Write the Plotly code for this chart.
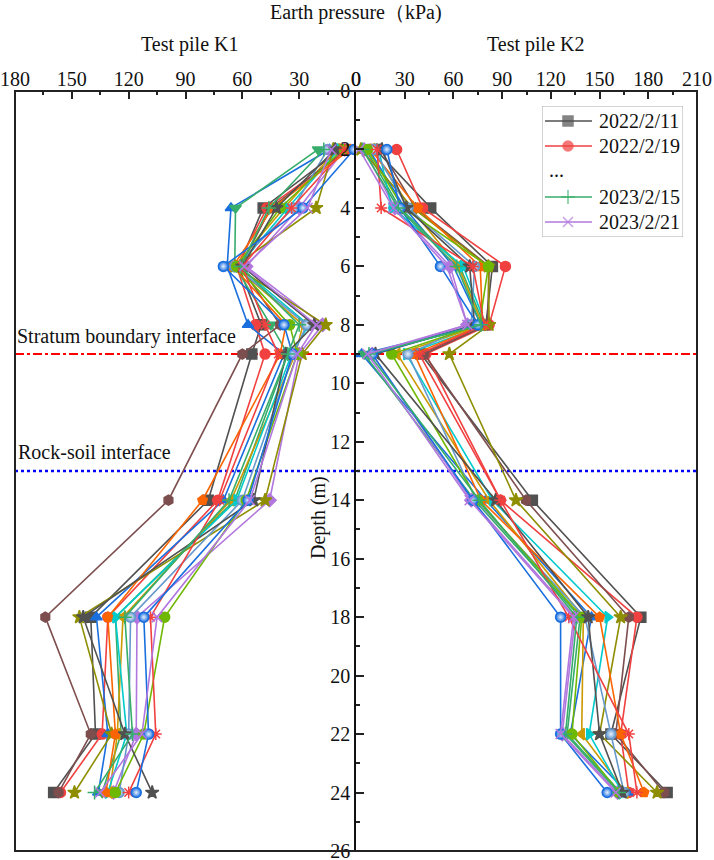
import plotly.graph_objects as go

depths = [2, 4, 6, 8, 9, 14, 18, 22, 24]

dates = ["2022/2/11", "2022/2/19", "s3", "s4", "s5", "s6", "s7", "s8", "s9", "s10",
         "s11", "s12", "s13", "s14", "s15", "2023/2/15", "2023/2/21"]

# Earth pressure, test pile K1 (kPa), one list per monitoring date
k1 = [
    [8, 49, 62, 50, 55, 78, 140, 137.5, 159.6],
    [4, 47, 63, 53, 48, 73, 131, 134, 156],
    [14, 66, 68, 57, 38, 70, 137, 131, 136],
    [20, 63.6, 64, 45, 36, 64, 127, 124, 134],
    [6, 30, 58, 17.6, 30, 45.6, 115.6, 116, 128],
    [10, 38, 64, 28, 32, 66, 123, 126, 130],
    [9, 36, 62, 25, 34, 63, 127, 121, 131],
    [5, 45, 61, 40, 60, 99, 164, 140, 157],
    [12, 21, 64, 16, 28.4, 48, 146, 129, 148.6],
    [3, 44, 65, 37, 40, 81, 131, 127, 132],
    [15, 33, 64, 26, 33, 60, 119, 120, 125],
    [7, 40, 63, 35, 31, 58, 101, 112, 127],
    [11, 42, 60, 22, 37, 54, 144, 122, 107.6],
    [6, 34, 60, 48, 41, 72, 108.5, 105.7, 120],
    [1, 28, 70, 38, 33.5, 57, 112, 109.5, 116],
    [17, 46, 61, 30, 36, 67, 122, 118, 138],
    [13, 25.6, 59, 21, 31, 56, 105, 113, 135],
]

# Earth pressure, test pile K2 (kPa)
k2 = [
    [12, 46, 84, 80, 40, 108.6, 175.4, 157, 191.6],
    [25, 41, 92, 82, 43, 89, 173, 163, 168],
    [8, 30, 60, 77, 3.5, 80, 145, 132, 167],
    [6, 27, 64, 79, 5, 73, 138, 130, 163],
    [5, 24, 58, 68.6, 10, 71, 135, 127, 161],
    [10, 33.5, 63, 78, 25.5, 82, 140, 139, 166],
    [14, 22, 66, 80, 31, 84, 155, 143.6, 164],
    [15, 36.6, 82, 81, 42, 104.7, 168, 160, 189.7],
    [3, 35, 81.5, 82, 57.5, 98.5, 163, 150, 185.4],
    [9, 38, 76.5, 78, 36, 77, 150, 163, 177.4],
    [11, 32, 73, 71, 32, 74, 141, 157, 165],
    [7, 29, 81.5, 76, 22, 75, 139, 133, 162],
    [16, 31, 70, 73, 12, 86, 143, 150, 164],
    [13, 15.5, 72, 79, 39, 89, 131, 168, 173],
    [19, 27, 52, 75, 10, 72, 126, 126, 154.7],
    [4, 26, 62, 77, 8, 76, 136, 129, 162],
    [2, 23, 56, 68.6, 7, 70, 134, 126, 160],
]

colors = ["#515151", "#F14040", "#1A6FDF", "#37AD6B", "#B177DE", "#CC9900",
          "#00CBCC", "#7D4E4E", "#8E8E00", "#FB6501", "#6699CC", "#6FB802",
          "#515151", "#F14040", "#1A6FDF", "#37AD6B", "#B177DE"]
symbols = ["square", "circle", "triangle-up", "triangle-down", "diamond",
           "triangle-left", "triangle-right", "hexagon", "star", "pentagon",
           "circle", "circle", "star", "asterisk-open", "circle",
           "cross-thin-open", "x-thin-open"]
spheres = {10, 14}

# legend rows: (series index or None for the "..." row, label)
legend_rows = [(0, "2022/2/11"), (1, "2022/2/19"), (None, "..."),
               (15, "2023/2/15"), (16, "2023/2/21")]

FONT = "Times New Roman, Liberation Serif, serif"

# plot area in page pixels
L, R, T, B = 15, 697, 91, 851
W, H = 714, 860


def marker_for(i, size=10):
    mk = dict(symbol=symbols[i], size=size, color=colors[i],
              line=dict(color=colors[i], width=1.5))
    if i in spheres:
        mk["gradient"] = dict(type="radial", color="#E8F0FF")
    return mk


fig = go.Figure()

for i in range(len(k1)):
    for vals, xa in ((k1[i], "x"), (k2[i], "x2")):
        fig.add_trace(go.Scatter(
            x=vals, y=depths, xaxis=xa, yaxis="y", mode="lines+markers",
            line=dict(color=colors[i], width=1.6), marker=marker_for(i),
            name=dates[i], showlegend=False))

# hand-built legend on an overlay axis measured in page pixels
LX0, LX1, LY0, LY1 = 542, 683, 106, 237
row_y = [121, 146, 171, 197, 222]
for (idx, label), ry in zip(legend_rows, row_y):
    if idx is not None:
        mk = marker_for(idx)
        mk["size"] = [0, 10, 0]
        fig.add_trace(go.Scatter(
            x=[545, 568, 592], y=[ry, ry, ry], xaxis="x3", yaxis="y3",
            mode="lines+markers", line=dict(color=colors[idx], width=1.6),
            marker=mk, showlegend=False, hoverinfo="skip"))

axis_common = dict(showgrid=False, zeroline=False, ticks="inside", ticklen=8,
                   tickwidth=1.5, tickcolor="#222", dtick=30, tick0=0,
                   minor=dict(dtick=15, ticks="inside", ticklen=4, tickwidth=1.5,
                              tickcolor="#222"),
                   tickfont=dict(family=FONT, size=20, color="#111"),
                   ticklabeloverflow="allow",
                   showline=False, side="top", automargin=False)

fig.update_layout(
    width=W, height=H,
    margin=dict(l=L, r=W - R, t=T, b=H - B, autoexpand=False),
    paper_bgcolor="white", plot_bgcolor="white",
    font=dict(family=FONT, size=20, color="#111"),
    showlegend=False,
    xaxis=dict(domain=[0, 0.5], range=[180, 0], anchor="y", **axis_common),
    xaxis2=dict(domain=[0.5, 1], range=[0, 210], anchor="y", **axis_common),
    yaxis=dict(range=[26.0001, 0], anchor="x2", side="left", dtick=2, tick0=0,
               showgrid=False, zeroline=False, showline=True, linecolor="#111",
               linewidth=1.5, ticks="inside", ticklen=8, tickwidth=1.5,
               tickcolor="#222", automargin=False, ticklabeloverflow="allow",
               minor=dict(dtick=1, ticks="inside", ticklen=4, tickwidth=1.5,
                          tickcolor="#222"),
               tickfont=dict(family=FONT, size=20, color="#111")),
    xaxis3=dict(domain=[(LX0 - L) / (R - L), (LX1 - L) / (R - L)],
                range=[LX0, LX1], anchor="y3", visible=False, fixedrange=True),
    yaxis3=dict(domain=[(B - LY1) / (B - T), (B - LY0) / (B - T)],
                range=[LY1, LY0], anchor="x3", visible=False, fixedrange=True),
)

# legend box
fig.add_shape(type="rect", xref="x3", yref="y3", x0=LX0, x1=LX1, y0=LY0, y1=LY1,
              line=dict(color="#AAAAAA", width=1), fillcolor="white", layer="below")

# interface lines
fig.add_shape(type="line", xref="paper", yref="y", x0=0, x1=1, y0=9, y1=9,
              line=dict(color="#FF0000", width=2, dash="dashdot"), layer="below")
fig.add_shape(type="line", xref="paper", yref="y", x0=0, x1=1, y0=13, y1=13,
              line=dict(color="#0000FF", width=2.5, dash="dot"), layer="below")
# frame
fig.add_shape(type="rect", xref="paper", yref="paper", x0=0, x1=1, y0=0, y1=1,
              line=dict(color="#222", width=2), layer="above")

ann = dict(showarrow=False, font=dict(family=FONT, size=20, color="#111"))
for (idx, label), ry in zip(legend_rows, row_y):
    if idx is None:
        fig.add_annotation(text=label, xref="x3", yref="y3", x=547, y=ry - 1,
                           xanchor="left", yanchor="middle", **ann)
    else:
        fig.add_annotation(text=label, xref="x3", yref="y3", x=597, y=ry,
                           xanchor="left", yanchor="middle", **ann)

fig.add_annotation(text="Earth pressure（kPa)", xref="paper", yref="paper",
                   x=0.5, y=(B - 12) / (B - T), xanchor="center", yanchor="middle", **ann)
fig.add_annotation(text="Test pile K1", xref="paper", yref="paper",
                   x=(189 - L) / (R - L), y=(B - 45) / (B - T),
                   xanchor="center", yanchor="middle", **ann)
fig.add_annotation(text="Test pile K2", xref="paper", yref="paper",
                   x=(535 - L) / (R - L), y=(B - 45) / (B - T),
                   xanchor="center", yanchor="middle", **ann)
fig.add_annotation(text="Depth (m)", xref="paper", yref="paper",
                   x=(318 - L) / (R - L), y=(B - 518) / (B - T), textangle=-90,
                   xanchor="center", yanchor="middle", **ann)
fig.add_annotation(text="Stratum boundary interface", xref="paper", yref="y",
                   x=0.0, y=8.4, xanchor="left", yanchor="middle", **ann)
fig.add_annotation(text="Rock-soil interface", xref="paper", yref="y",
                   x=0.002, y=12.35, xanchor="left", yanchor="middle", **ann)

fig.write_html("out.html")
